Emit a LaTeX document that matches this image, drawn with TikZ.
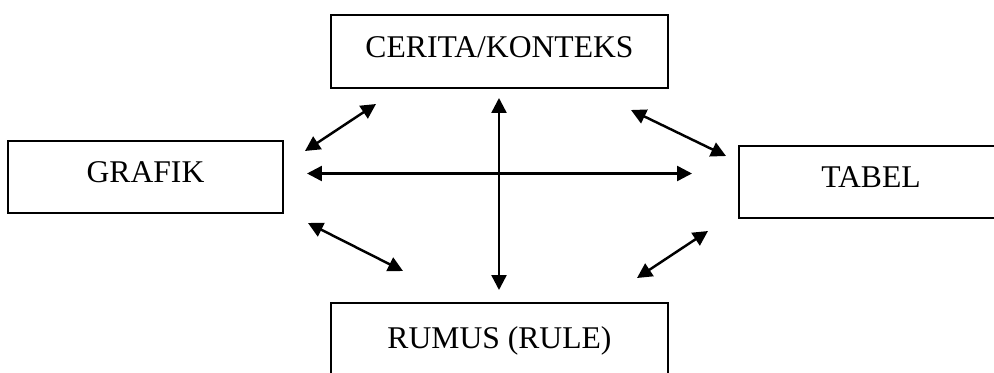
\documentclass[tikz,border=0pt]{standalone}
\usepackage{fontspec}
\setmainfont{Liberation Serif}
\usepackage{tikz}
\usetikzlibrary{arrows.meta}

\begin{document}
\begin{tikzpicture}[x=0.02cm,y=-0.02cm,line width=0.9pt,
  >={Triangle[length=8.5pt,width=8.5pt]},
  box node/.style={draw,rectangle,inner sep=0pt,outer sep=0pt,
    text height=12pt,text depth=5.7pt,font=\fontsize{18}{21}\selectfont},
  link/.style={<->,line width=1.4pt}]
  \clip (0,0) rectangle (994,372);
  \useasboundingbox (0,0) rectangle (994,372);

  \node[box node,minimum width=6.74cm,minimum height=1.46cm] (cerita) at (499.5,51.5) {CERITA/KONTEKS};
  \node[box node,minimum width=5.5cm,minimum height=1.44cm] (grafik) at (145.5,177) {GRAFIK};
  \node[box node,minimum width=5.28cm,minimum height=1.44cm] (tabel) at (871,182) {TABEL};
  \node[box node,minimum width=6.74cm,minimum height=1.6cm] (rumus) at (499.5,343) {RUMUS (RULE)};

  % arrow ends
  \coordinate (gc1) at (305,151);
  \coordinate (gc2) at (376,104);
  \coordinate (ct1) at (631,110);
  \coordinate (ct2) at (726,156);
  \coordinate (gt1) at (307,173.5);
  \coordinate (gt2) at (692,173.5);
  \coordinate (cr1) at (499,98);
  \coordinate (cr2) at (499,290);
  \coordinate (gr1) at (308,223);
  \coordinate (gr2) at (403,271);
  \coordinate (tr1) at (708,231);
  \coordinate (tr2) at (637,278);

  \path[link]
    (gc1) edge (gc2)
    (ct1) edge (ct2)
    (gt1) edge (gt2)
    (cr1) edge (cr2)
    (gr1) edge (gr2)
    (tr1) edge (tr2);
\end{tikzpicture}
\end{document}
